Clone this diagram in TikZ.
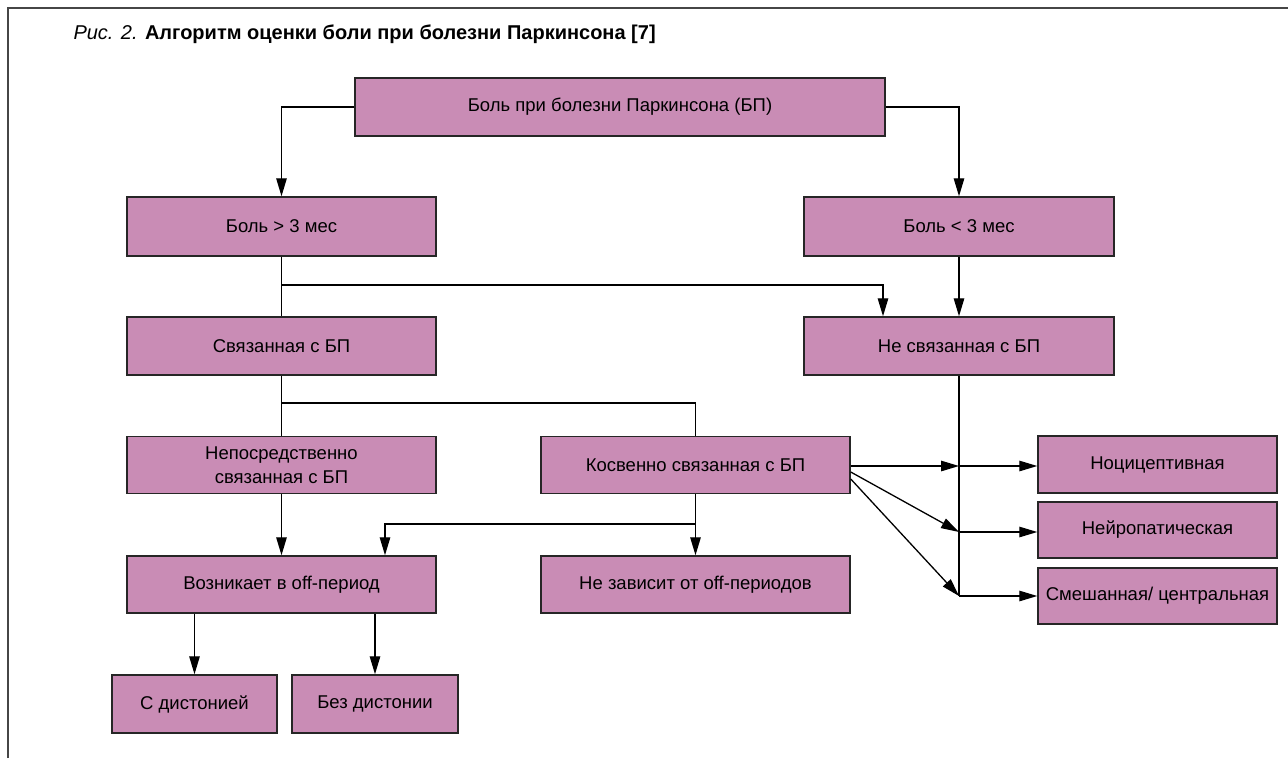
\documentclass[tikz,border=0pt]{standalone}
\usepackage{fontspec}
\setmainfont{Liberation Sans}
\usetikzlibrary{arrows.meta}
\definecolor{boxfill}{RGB}{201,140,181}
\definecolor{framegray}{RGB}{70,70,70}
\begin{document}
\begin{tikzpicture}[x=1pt,y=-1pt,
  box/.style={draw=black!85, line width=1.5pt, fill=boxfill, inner sep=0pt,
    font=\fontsize{18.5}{24}\selectfont, align=center},
  conn/.style={line width=1.3pt, draw=black},
  arr/.style={conn, -{Triangle[length=18pt,width=10.5pt]}}]
\useasboundingbox (0,0) rectangle (1288,758);
\draw[line width=2pt, draw=framegray] (8,758) -- (8,8) -- (1288,8);
\node[anchor=base west, font=\fontsize{20}{24}\selectfont] (title) at (70,39)
  {\textit{Рис. 2.} \textbf{Алгоритм оценки боли при болезни Паркинсона [7]}};
\node[box, minimum width=530pt, minimum height=58pt] (top) at (620,107) {Боль при болезни Паркинсона (БП)};
\node[box, minimum width=309pt, minimum height=59pt] (b3) at (281.5,226.5) {Боль > 3 мес};
\node[box, minimum width=310pt, minimum height=59pt] (l3) at (959,226.5) {Боль < 3 мес};
\node[box, minimum width=309pt, minimum height=58pt] (svyaz) at (281.5,346) {Связанная с БП};
\node[box, minimum width=310pt, minimum height=58pt] (nesvyaz) at (959,346) {Не связанная с БП};
\node[box, minimum width=309pt, minimum height=57pt] (neposr) at (281.5,465) {Непосредственно\\связанная с БП};
\node[box, minimum width=309pt, minimum height=57pt] (kosv) at (695.5,465) {Косвенно связанная с БП};
\node[box, minimum width=309pt, minimum height=57pt] (vozn) at (281.5,584.5) {Возникает в off-период};
\node[box, minimum width=309pt, minimum height=57pt] (nezav) at (695.5,584.5) {Не зависит от off-периодов};
\node[box, minimum width=165pt, minimum height=58pt] (sdist) at (194.5,704) {С дистонией};
\node[box, minimum width=166pt, minimum height=58pt] (bezd) at (375,704) {Без дистонии};
\node[box, minimum width=239pt, minimum height=57pt] (noci) at (1157.5,464.5) {Ноцицептивная};
\node[box, minimum width=239pt, minimum height=56pt] (neur) at (1157.5,530) {Нейропатическая};
\node[box, minimum width=239pt, minimum height=56pt] (smesh) at (1157.5,596) {Смешанная/ центральная};
\coordinate (ja) at (959,466);
\coordinate (jb) at (959,532);
\coordinate (jc) at (959,596);
\draw[arr] (top.west) -| (b3.north);
\draw[arr] (top.east) -| (l3.north);
\draw[conn] (b3.south) -- (svyaz.north);
\draw[arr] (b3.south |- 0,285) -| ([xshift=-76pt]nesvyaz.north);
\draw[arr] (l3.south) -- (nesvyaz.north);
\draw[conn] (svyaz.south) -- (neposr.north);
\draw[conn] (svyaz.south |- 0,403) -| (kosv.north);
\draw[arr] (neposr.south) -- (vozn.north);
\draw[arr] (kosv.south) -- (nezav.north);
\draw[arr] (kosv.south |- 0,524) -| ([xshift=103.5pt]vozn.north);
\draw[arr] (vozn.south -| sdist.north) -- (sdist.north);
\draw[arr] (vozn.south -| bezd.north) -- (bezd.north);
\draw[conn] (nesvyaz.south) -- (jc);
\draw[arr] (kosv.east |- ja) -- (ja);
\draw[arr] ([yshift=-7pt]kosv.east) -- (jb);
\draw[arr] ([yshift=-14pt]kosv.east) -- (jc);
\draw[arr] (ja) -- (ja -| noci.west);
\draw[arr] (jb) -- (jb -| neur.west);
\draw[arr] (jc) -- (jc -| smesh.west);
\end{tikzpicture}
\end{document}
